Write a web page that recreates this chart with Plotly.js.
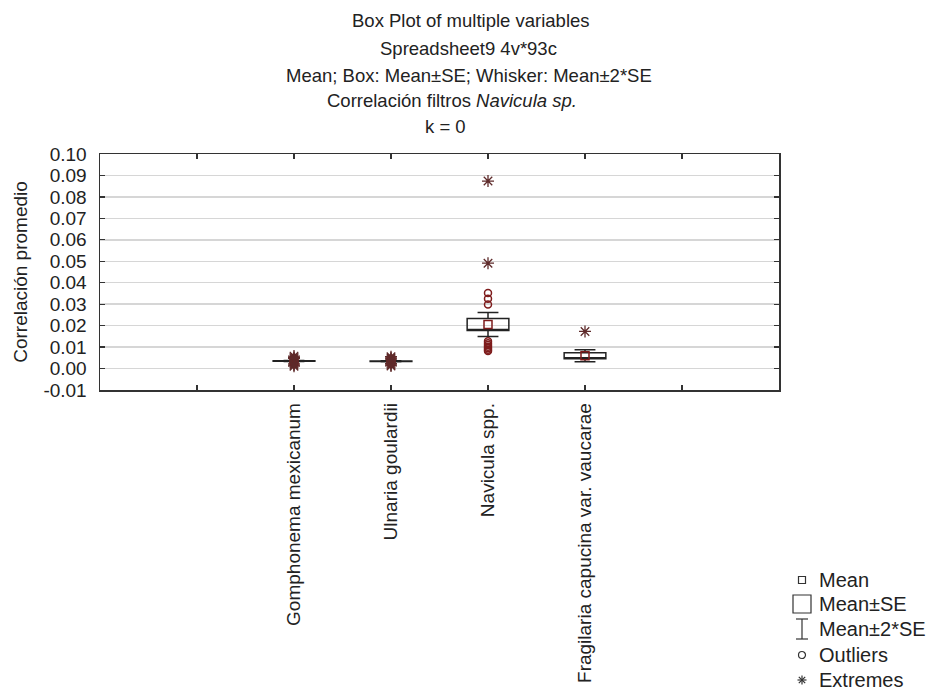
<!DOCTYPE html>
<html>
<head>
<meta charset="utf-8">
<script src="https://cdn.plot.ly/plotly-3.0.1.min.js"></script>
<style>html,body{margin:0;padding:0;background:#fff;}#chart{width:926px;height:690px;}</style>
</head>
<body>
<div id="chart"></div>
<script>
// ---- data ----
const categories = ["Gomphonema mexicanum", "Ulnaria goulardii", "Navicula spp.", "Fragilaria capucina var. vaucarae"];
const means = [0.0035, 0.0034, 0.0205, 0.0060];
const stdErrs = [0.0001, 0.0001, 0.0028, 0.0014];
const outliers = [
  [0.0050, 0.0044, 0.0026, 0.0020],
  [0.0047, 0.0041, 0.0028, 0.0021],
  [0.0352, 0.0325, 0.0298, 0.0127, 0.0118, 0.0110, 0.0102, 0.0095, 0.0088, 0.0082],
  []
];
const extremes = [
  [0.0058, 0.0052, 0.0047, 0.0022, 0.0016, 0.0011],
  [0.0055, 0.0049, 0.0044, 0.0023, 0.0017, 0.0012],
  [0.0874, 0.0491],
  [0.0173]
];
const yTicks = [-0.01, 0.00, 0.01, 0.02, 0.03, 0.04, 0.05, 0.06, 0.07, 0.08, 0.09, 0.10];
const titleLines = [
  "Box Plot of multiple variables",
  "Spreadsheet9 4v*93c",
  "Mean; Box: Mean±SE; Whisker: Mean±2*SE",
  "Correlación filtros <i>Navicula sp.</i>",
  "k = 0"
];
const legendLabels = ["Mean", "Mean±SE", "Mean±2*SE", "Outliers", "Extremes"];

// ---- layout helpers ----
const FONT = 'Arial, "Liberation Sans", sans-serif';
const L = 100, R = 779, T = 154, B = 390;
const px = x => (x - L) / (R - L);
const py = y => (B - y) / (B - T);
const pos = categories.map((c, i) => i + 2);
const markerColor = '#7e1c1c';
const astColor = '#5e2a2a';

const boxTrace = {
  type: 'box',
  x: pos,
  q1: means.map((m, i) => m - stdErrs[i]),
  median: means.map((m, i) => m - stdErrs[i]),
  q3: means.map((m, i) => m + stdErrs[i]),
  lowerfence: means.map((m, i) => m - 2 * stdErrs[i]),
  upperfence: means.map((m, i) => m + 2 * stdErrs[i]),
  width: 0.43,
  whiskerwidth: 0.5,
  boxpoints: false,
  line: {color: '#222', width: 1.5},
  fillcolor: 'rgba(255,255,255,0)',
  hoverinfo: 'skip',
  showlegend: false
};

const ox = [], oy = [], ex = [], ey = [];
outliers.forEach((arr, i) => arr.forEach(v => { ox.push(pos[i]); oy.push(v); }));
extremes.forEach((arr, i) => arr.forEach(v => { ex.push(pos[i]); ey.push(v); }));

const outTrace = {
  type: 'scatter', mode: 'markers', x: ox, y: oy, showlegend: false,
  marker: {symbol: 'circle-open', size: 7, color: markerColor, line: {width: 1.5, color: markerColor}}
};
const extTrace = {
  type: 'scatter', mode: 'markers', x: ex, y: ey, showlegend: false,
  marker: {symbol: 'asterisk-open', size: 10, color: astColor, line: {width: 1.3, color: astColor}}
};
const meanTrace = {
  type: 'scatter', mode: 'markers', x: pos, y: means, showlegend: false,
  marker: {symbol: 'square-open', size: 8, color: markerColor, line: {width: 1.5, color: markerColor}}
};

// ---- annotations (titles + legend) ----
const annotations = [];
const titleY = [20, 48, 75, 101, 126];
const titleX = [471, 468, 469, 452, 445];
titleLines.forEach((t, i) => annotations.push({
  text: t, xref: 'paper', yref: 'paper', x: px(titleX[i]), y: py(titleY[i]),
  xanchor: 'center', yanchor: 'middle', showarrow: false,
  font: {family: FONT, size: 18.5, color: '#222'}
}));
const legY = [580, 604, 629, 655, 680];
legendLabels.forEach((t, i) => annotations.push({
  text: t, xref: 'paper', yref: 'paper', x: px(817), y: py(legY[i]),
  xanchor: 'left', yanchor: 'middle', showarrow: false,
  font: {family: FONT, size: 20, color: '#222'}
}));

const sc = '#333';
const lineShape = (x0, y0, x1, y1) => ({type: 'line', xref: 'paper', yref: 'paper',
  x0: px(x0), y0: py(y0), x1: px(x1), y1: py(y1), line: {color: sc, width: 1.2}});
const rectShape = (x0, y0, x1, y1) => ({type: 'rect', xref: 'paper', yref: 'paper',
  x0: px(x0), y0: py(y0), x1: px(x1), y1: py(y1), line: {color: sc, width: 1.2}});
const sx = 802;
const shapes = [
  rectShape(sx - 3.5, legY[0] - 3.5, sx + 3.5, legY[0] + 3.5),
  rectShape(793, legY[1] - 9, 811, legY[1] + 9),
  lineShape(sx, legY[2] - 10, sx, legY[2] + 10),
  lineShape(sx - 6, legY[2] - 10, sx + 6, legY[2] - 10),
  lineShape(sx - 6, legY[2] + 10, sx + 6, legY[2] + 10),
  {type: 'circle', xref: 'paper', yref: 'paper', x0: px(sx - 3.5), y0: py(legY[3] - 3.5),
   x1: px(sx + 3.5), y1: py(legY[3] + 3.5), line: {color: sc, width: 1.2}},
  lineShape(sx - 4.5, legY[4], sx + 4.5, legY[4]),
  lineShape(sx, legY[4] - 4.5, sx, legY[4] + 4.5),
  lineShape(sx - 3.2, legY[4] - 3.2, sx + 3.2, legY[4] + 3.2),
  lineShape(sx - 3.2, legY[4] + 3.2, sx + 3.2, legY[4] - 3.2)
];

const layout = {
  width: 926, height: 690,
  margin: {l: L, r: 926 - R, t: T, b: 690 - B},
  paper_bgcolor: '#fff', plot_bgcolor: '#fff',
  font: {family: FONT, size: 19, color: '#222'},
  showlegend: false,
  xaxis: {
    range: [0, 7], tickmode: 'array', tickvals: [1, 2, 3, 4, 5, 6],
    ticktext: ['', ...categories, ''], tickangle: -90,
    ticks: 'inside', ticklen: 5, tickwidth: 1.2, tickcolor: '#333',
    showline: true, linecolor: '#333', linewidth: 1.5, mirror: 'ticks',
    showgrid: false, zeroline: false, ticklabelstandoff: 4,
    tickfont: {family: FONT, size: 19, color: '#222'}
  },
  yaxis: {
    range: [-0.01, 0.10], tickmode: 'array', tickvals: yTicks,
    ticktext: yTicks.map(v => v.toFixed(2)),
    ticks: 'inside', ticklen: 5, tickwidth: 1.2, tickcolor: '#333',
    showline: true, linecolor: '#333', linewidth: 1.5, mirror: 'ticks',
    showgrid: true, gridcolor: '#d6d6d6', gridwidth: 1.5, zeroline: false,
    ticklabelstandoff: 8,
    tickfont: {family: FONT, size: 19, color: '#222'},
    title: {text: 'Correlación promedio', standoff: 10, font: {family: FONT, size: 19, color: '#222'}}
  },
  annotations: annotations,
  shapes: shapes
};

Plotly.newPlot('chart', [boxTrace, meanTrace, outTrace, extTrace], layout, {displayModeBar: false, staticPlot: true});
</script>
</body>
</html>
